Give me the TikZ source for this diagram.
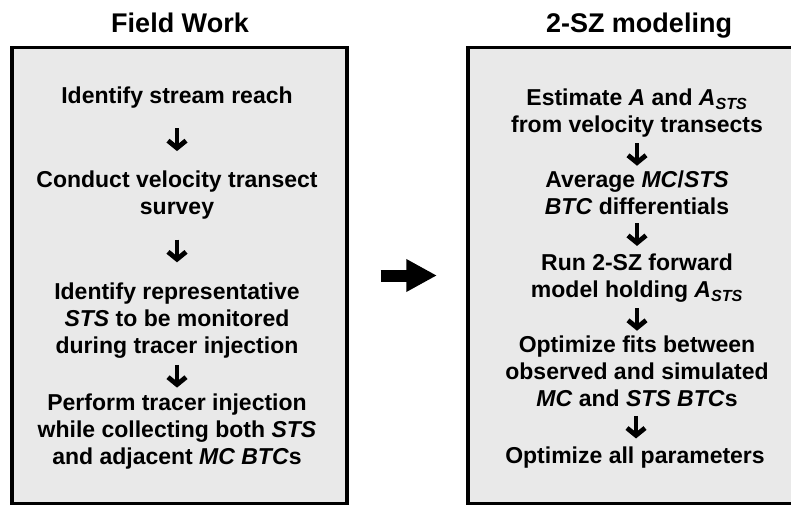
\documentclass[tikz,border=0pt]{standalone}
\usepackage{fontspec}
\setmainfont{Liberation Sans}
\usetikzlibrary{arrows.meta}

\definecolor{panelgray}{HTML}{E9E9E9}

\tikzset{
  panel/.style={draw=black, fill=panelgray, line width=2.6pt, inner sep=0pt},
  heading/.style={font=\fontsize{20.25}{24}\selectfont\bfseries},
  stepbox/.style={align=center, inner sep=0pt,
    font=\fontsize{17.25}{20.25}\selectfont\bfseries},
  flowarrow/.style={line width=3.6pt, -{Straight Barb[length=5.5pt,width=13.5pt,line width=3.6pt]}},
  bigarrow/.style={line width=9pt, -{Triangle[length=23pt,width=23pt]}}
}

\newcommand{\Asts}{\textit{A}\textsubscript{\textit{STS}}}

\begin{document}
\begin{tikzpicture}[x=0.75pt,y=-0.75pt]
  \useasboundingbox (0,0) rectangle (791,506);

  % --- the two panels ---
  \node[panel, minimum width=335*0.75pt, minimum height=456*0.75pt] (field) at (179.5,275.5) {};
  \node[panel, minimum width=370*0.75pt, minimum height=456*0.75pt] (model) at (653,275.5) {};

  \node[heading] (fieldtitle) at (180,23) {Field Work};
  \node[heading] (modeltitle) at (639,26) {2-SZ modeling};

  % --- field work steps ---
  \node[stepbox] (f1) at (177,98) {Identify stream reach};
  \node[stepbox] (f2) at (177,195) {Conduct velocity transect\\survey};
  \node[stepbox] (f3) at (177,320.5) {Identify representative\\\textit{STS} to be monitored\\during tracer injection};
  \node[stepbox] (f4) at (177,432) {Perform tracer injection\\while collecting both \textit{STS}\\and adjacent \textit{MC BTC}s};

  % --- modeling steps ---
  \node[stepbox] (m1) at (637,113.5) {Estimate \textit{A} and \Asts\\from velocity transects};
  \node[stepbox] (m2) at (637,193) {Average \textit{MC}/\textit{STS}\\\textit{BTC} differentials};
  \node[stepbox] (m3) at (637,278.5) {Run 2-SZ forward\\model holding \Asts};
  \node[stepbox] (m4) at (637,371.5) {Optimize fits between\\observed and simulated\\\textit{MC} and \textit{STS BTC}s};
  \node[stepbox] (m5) at (635,458) {Optimize all parameters};

  % short arrows centred in the gaps
  \foreach \a/\b in {f1/f2,f2/f3,f3/f4,m1/m2,m2/m3,m3/m4,m4/m5} {
    \path (\a.south) -- coordinate[midway] (mid) (\b.north);
    \draw[flowarrow] ([yshift=8.5pt]mid) -- ([yshift=-8.5pt]mid);
  }

  % field work feeds the model
  \draw[bigarrow, shorten <=24pt, shorten >=22pt] (field.east) -- (model.west);

\end{tikzpicture}
\end{document}
